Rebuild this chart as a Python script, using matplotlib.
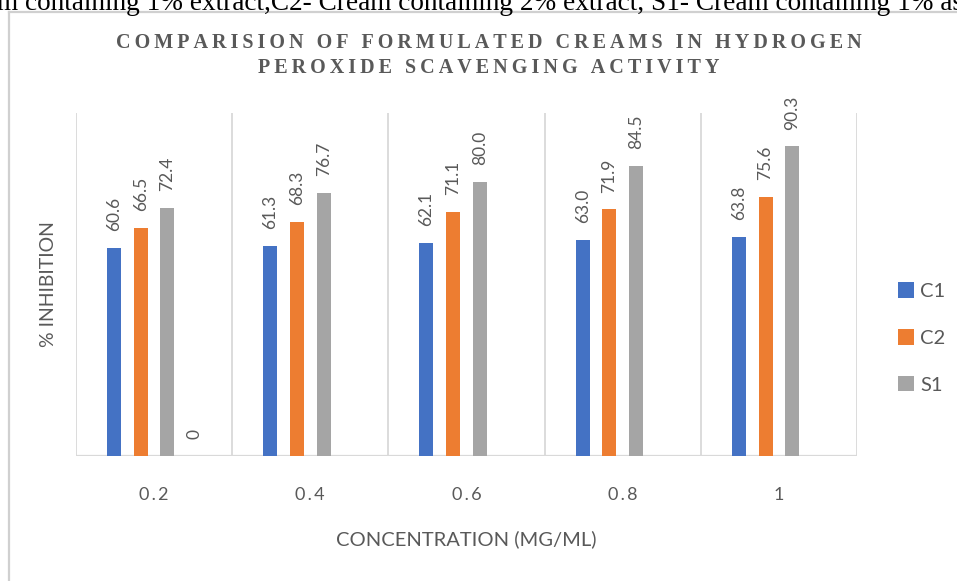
import numpy as np
import matplotlib
matplotlib.use("Agg")
import matplotlib.pyplot as plt
from matplotlib.lines import Line2D

# Data
concentrations = ["0.2", "0.4", "0.6", "0.8", "1"]
c1 = [60.6, 61.3, 62.1, 63.0, 63.8]
c2 = [66.5, 68.3, 71.1, 71.9, 75.6]
s1 = [72.4, 76.7, 80.0, 84.5, 90.3]
blank = [0, np.nan, np.nan, np.nan, np.nan]

series_names = ["C1", "C2", "S1"]
colors = ["#4472C4", "#ED7D31", "#A5A5A5"]

W, H = 957, 581
DPI = 100
fig = plt.figure(figsize=(W / DPI, H / DPI), dpi=DPI)
fig.patch.set_facecolor("white")

SANS = ["Lato", "DejaVu Sans"]
SERIF = ["Liberation Serif", "DejaVu Serif"]
GREY_TXT = "#595959"
GRID = "#D9D9D9"


def px(x, y):
    """Pixel position (from top-left) to figure fraction."""
    return x / W, 1 - y / H


def tracked(s, gap="\u2009"):
    return gap.join(s)


# Caption line running above the chart frame
cx, cy = px(-3, 10)
fig.text(cx, cy, "m containing 1% extract,C2- Cream containing 2% extract, "
         "S1- Cream containing 1% ascorbic acid",
         family=SERIF, fontsize=19.6, color="black", ha="left", va="baseline")

# Chart frame (left and top edges)
fx0, fy0 = px(9, 12)
fx1, fy1 = px(W + 5, H + 5)
fig.add_artist(Line2D([fx0, fx0], [fy1, fy0], color="#D0D0D0", lw=1.6,
                      transform=fig.transFigure))
fig.add_artist(Line2D([fx0, fx1], [fy0, fy0], color="#D0D0D0", lw=1.6,
                      transform=fig.transFigure))

# Plot area
left, top = px(76, 113)
right, bottom = px(857, 456)
ax = fig.add_axes([left, bottom, right - left, top - bottom])

x = np.arange(len(concentrations))
step = 0.171
width = 0.09
all_series = [c1, c2, s1, blank]
offsets = (np.arange(4) - 1.5) * step

for i, vals in enumerate(all_series):
    if i < 3:
        bars = ax.bar(x + offsets[i], vals, width, color=colors[i],
                      label=series_names[i], zorder=3)
        labels = [f"{v:.1f}" for v in vals]
    else:
        bars = ax.bar(x + offsets[i], vals, width, color="none", zorder=3)
        labels = ["" if np.isnan(v) else f"{v:g}" for v in vals]
    ax.bar_label(bars, labels=labels, rotation=90, padding=12,
                 fontsize=12.5, color=GREY_TXT, family=SANS)

ax.set_xlim(-0.5, len(concentrations) - 0.5)
ax.set_ylim(0, 100)

# Category separators and baseline
for b in np.arange(-0.5, len(concentrations), 1.0):
    ax.axvline(b, color=GRID, lw=1.3, zorder=1)
ax.axhline(0, color=GRID, lw=1.6, zorder=2)

for sp in ax.spines.values():
    sp.set_visible(False)
ax.set_yticks([])
ax.set_xticks(x)
ax.set_xticklabels([tracked(c, "\u2009") for c in concentrations],
                   family=SANS, fontsize=13, color=GREY_TXT)
ax.tick_params(axis="x", length=0, pad=22)

ax.set_xlabel("CONCENTRATION (MG/ML)", family=SANS, fontsize=14.5,
              color=GREY_TXT, labelpad=20)
ax.set_ylabel("% INHIBITION", family=SANS, fontsize=14, color=GREY_TXT,
              labelpad=10)
ax.yaxis.set_label_coords(-(76 - 57) / (857 - 76), 0.5)

# Title
tx, ty1 = px(489, 43)
_, ty2 = px(489, 68)
fig.text(tx, ty1, tracked("COMPARISION OF FORMULATED CREAMS IN HYDROGEN"),
         family=SERIF, fontweight="bold", fontsize=14.5, color=GREY_TXT,
         ha="center", va="center")
fig.text(tx, ty2, tracked("PEROXIDE SCAVENGING ACTIVITY"),
         family=SERIF, fontweight="bold", fontsize=14.5, color=GREY_TXT,
         ha="center", va="center")

# Legend
lx, ly = px(898, 338)
ax.legend(loc="center left", bbox_to_anchor=(lx, ly),
          bbox_transform=fig.transFigure, frameon=False,
          prop={"family": SANS, "size": 14.5}, labelcolor=GREY_TXT,
          handlelength=0.8, handleheight=0.8, handletextpad=0.3,
          labelspacing=1.45, borderpad=0, borderaxespad=0)

fig.savefig("out.png", dpi=DPI, facecolor="white")
